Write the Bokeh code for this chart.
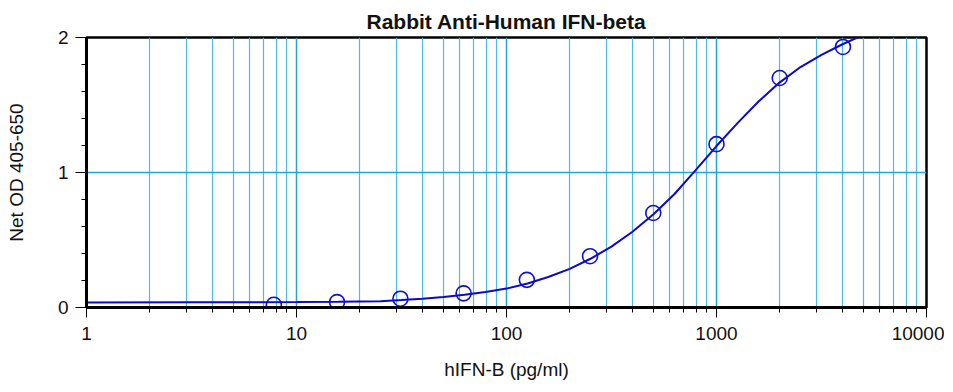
from bokeh.plotting import figure
from bokeh.models import Range1d, FixedTicker
from bokeh.embed import file_html
from bokeh.resources import INLINE

# Standards (pg/ml) and measured Net OD
conc = [7.8, 15.6, 31.25, 62.5, 125, 250, 500, 1000, 2000, 4000]
od = [0.02, 0.04, 0.065, 0.105, 0.205, 0.38, 0.70, 1.21, 1.70, 1.93]

# fitted curve, points
curve_x = [1, 3.16, 10, 15.8, 25.1, 31.6, 39.8, 50.1, 63.1, 79.4, 100, 126, 158, 200, 251,
           316, 398, 501, 631, 794, 1000, 1259, 1585, 1995, 2512, 3162, 3981, 5012, 6310]
curve_y = [0.037, 0.038, 0.040, 0.042, 0.047, 0.055, 0.065, 0.078, 0.094, 0.114, 0.14,
           0.178, 0.226, 0.286, 0.361, 0.451, 0.561, 0.691, 0.841, 1.016, 1.196, 1.366,
           1.526, 1.666, 1.781, 1.871, 1.95, 2.02, 2.07]

x_major = [1, 10, 100, 1000, 10000]
x_minor = [m * d for d in [1, 10, 100, 1000] for m in range(2, 10)]
y_major = [0, 1, 2]
y_minor = [0.2, 0.4, 0.6, 0.8, 1.2, 1.4, 1.6, 1.8]

title = "Rabbit Anti-Human IFN-beta"
xlabel = "hIFN-B (pg/ml)"
ylabel = "Net OD 405-650"

FONT = "Liberation Sans"

p = figure(width=944, height=384, x_axis_type="log",
           x_range=Range1d(1, 10000), y_range=Range1d(0, 2),
           output_backend="svg", toolbar_location=None, title=title,
           min_border_left=86, min_border_right=18, min_border_top=37, min_border_bottom=77)

p.title.text_font = FONT
p.title.text_font_size = "21px"
p.title.text_font_style = "bold"
p.title.align = "center"
p.title.offset = 11
p.title.standoff = 10
p.title.text_color = "#111111"

p.background_fill_color = "white"
p.border_fill_color = "white"
p.outline_line_color = "black"
p.outline_line_width = 2.5

p.xaxis.ticker = FixedTicker(ticks=x_major, minor_ticks=x_minor)
p.xaxis.major_label_overrides = {t: str(t) for t in x_major}
p.yaxis.ticker = FixedTicker(ticks=y_major, minor_ticks=y_minor)
p.yaxis.major_label_overrides = {t: str(t) for t in y_major}

for ax in (p.xaxis, p.yaxis):
    ax.axis_line_color = "black"
    ax.axis_line_width = 3
    ax.major_tick_line_color = "black"
    ax.minor_tick_line_color = "black"
    ax.major_tick_in = 0
    ax.minor_tick_in = 0
    ax.major_label_text_font = FONT
    ax.major_label_text_font_size = "19px"
    ax.major_label_text_color = "#111111"
    ax.axis_label_text_font = FONT
    ax.axis_label_text_font_size = "19px"
    ax.axis_label_text_font_style = "normal"
    ax.axis_label_text_color = "#111111"

p.xaxis.major_tick_out = 10
p.xaxis.minor_tick_out = 5
p.yaxis.major_tick_out = 11
p.yaxis.minor_tick_out = 5
p.xaxis.major_label_standoff = 9
p.yaxis.major_label_standoff = 7
p.xaxis.axis_label = xlabel
p.yaxis.axis_label = ylabel
p.xaxis.axis_label_standoff = 16
p.yaxis.axis_label_standoff = 28

p.xgrid.ticker = FixedTicker(ticks=x_major, minor_ticks=x_minor)
p.xgrid.grid_line_color = "#1ea7d4"
p.xgrid.grid_line_width = 1.5
p.xgrid.minor_grid_line_color = "#4dbde2"
p.xgrid.minor_grid_line_width = 1.2
p.ygrid.ticker = FixedTicker(ticks=[1])
p.ygrid.grid_line_color = "#1ea7d4"
p.ygrid.grid_line_width = 1.5

p.line(curve_x, curve_y, line_color="#0a0ac8", line_width=2)
p.scatter(conc, od, size=15, marker="circle", fill_color=None,
          line_color="#1010cc", line_width=1.6)

open("out.html", "w").write(file_html(p, INLINE))
